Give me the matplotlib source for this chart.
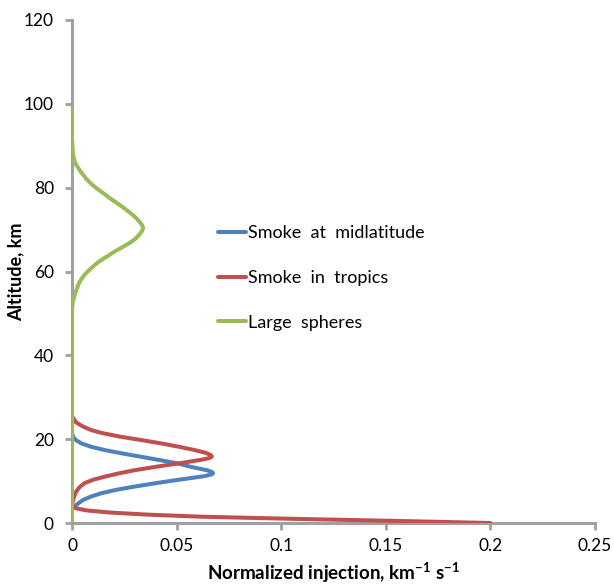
import matplotlib
matplotlib.use("Agg")
import matplotlib.pyplot as plt

plt.rcParams['font.family'] = ['Lato', 'DejaVu Sans']
plt.rcParams['mathtext.fontset'] = 'custom'
plt.rcParams['mathtext.rm'] = 'Lato:bold'
plt.rcParams['mathtext.default'] = 'rm'

# profiles: altitude (km) and normalized injection
mid_alt = [0, 3.5, 3.9, 4.7, 5.5, 6.3, 7.1, 7.9, 8.7, 9.5, 10.3, 10.8, 11.2, 11.6, 11.9, 12.2,
           12.6, 13.0, 13.5, 14.2, 15.0, 15.8, 16.6, 17.4, 18.2, 19.0, 19.8, 20.6, 21.5]
mid_val = [0, 0, 0.0013, 0.003, 0.0053, 0.009, 0.014, 0.021, 0.030, 0.040, 0.0507, 0.058, 0.0635,
           0.0668, 0.0674, 0.0668, 0.0645, 0.0605, 0.056, 0.0507, 0.042, 0.033, 0.024, 0.0156,
           0.009, 0.0045, 0.0018, 0.0005, 0]

trop_alt = [0, 0.5, 1.0, 1.5, 2.0, 2.5, 3.0, 3.5, 4.0, 4.5, 5.5, 6.5, 7.5, 8.5, 9.5, 10.3, 11.05,
            11.8, 12.6, 13.4, 14.2, 14.7, 15.1, 15.5, 15.9, 16.3, 16.8, 17.4, 18.2, 19.0, 19.8,
            20.6, 21.5, 22.2, 23.0, 24.0, 25.4]
trop_val = [0.2, 0.155, 0.105, 0.062, 0.036, 0.018, 0.007, 0.002, 0.0004, 0.0002, 0.0005, 0.0012,
            0.002, 0.0035, 0.006, 0.010, 0.0156, 0.022, 0.030, 0.040, 0.0507, 0.057, 0.062, 0.0658,
            0.0669, 0.066, 0.0635, 0.0586, 0.051, 0.0425, 0.033, 0.023, 0.014, 0.009, 0.0053,
            0.002, 0]

large_alt = [0, 51, 52.4, 53.4, 54.4, 55.2, 56, 56.8, 57.6, 58.4, 59.2, 60, 60.8, 61.6, 62.4,
             63.2, 64.0, 64.8, 65.5, 66.3, 67.1, 67.9, 68.7, 69.5, 70.3, 71.1, 72, 72.7, 73.5,
             74.3, 75.1, 75.9, 76.7, 77.5, 78.3, 79.1, 79.9, 80.7, 81.5, 82.3, 83.1, 83.9, 84.7,
             85.5, 86.2, 88, 90, 92, 98.6]
large_val = [0, 0, 0.0003, 0.0007, 0.0013, 0.0018, 0.0024, 0.003, 0.0037, 0.0048, 0.006, 0.0075,
             0.0092, 0.011, 0.013, 0.0155, 0.018, 0.0205, 0.023, 0.0258, 0.0284, 0.0305, 0.032,
             0.0333, 0.034, 0.0335, 0.032, 0.0308, 0.029, 0.027, 0.025, 0.0227, 0.0204, 0.018,
             0.016, 0.0138, 0.0116, 0.0097, 0.008, 0.0065, 0.0053, 0.004, 0.003, 0.002, 0.0013,
             0.0005, 0.0002, 0, 0]

labels = ['Smoke  at  midlatitude', 'Smoke  in  tropics', 'Large  spheres']
colors = ['#4F81BD', '#C0504D', '#9BBB59']
xticks = [0, 0.05, 0.1, 0.15, 0.2, 0.25]
xticklabels = ['0', '0.05', '0.1', '0.15', '0.2', '0.25']
yticks = [0, 20, 40, 60, 80, 100, 120]

fig = plt.figure(figsize=(6.14, 5.85), dpi=100)
ax = fig.add_axes([72 / 614, 62 / 585, 523 / 614, 503 / 585])

lw = 2.9
style = dict(lw=lw, solid_capstyle='round', solid_joinstyle='round')
ax.plot(mid_val, mid_alt, color=colors[0], label=labels[0], **style)
ax.plot(trop_val, trop_alt, color=colors[1], label=labels[1], **style)
ax.plot(large_val, large_alt, color=colors[2], label=labels[2], **style)

ax.set_xlim(0, 0.25)
ax.set_ylim(0, 120)
ax.set_xticks(xticks)
ax.set_xticklabels(xticklabels)
ax.set_yticks(yticks)

for side in ['top', 'right']:
    ax.spines[side].set_visible(False)
for side in ['left', 'bottom']:
    ax.spines[side].set_color('#A0A0A0')
    ax.spines[side].set_linewidth(2.2)
    ax.spines[side].set_zorder(0.5)
ax.tick_params(axis='both', direction='out', length=5, width=2, color='#A0A0A0', labelsize=12.5)
ax.tick_params(axis='y', pad=8)
ax.tick_params(axis='x', pad=6)

ax.set_xlabel(r'Normalized injection, km$^{-1}$ s$^{-1}$', fontsize=13.5, fontweight='bold', labelpad=5)
ax.set_ylabel('Altitude, km', fontsize=13, fontweight='bold')
ax.yaxis.set_label_coords(-0.092, 0.5)

ax.legend(loc='upper left', bbox_to_anchor=(218 / 614, 1 - 225 / 585), bbox_transform=fig.transFigure,
          frameon=False, fontsize=13, handlelength=1.55, handletextpad=0.1, labelspacing=1.6,
          borderpad=0, borderaxespad=0)

fig.savefig('out.png', dpi=100)
